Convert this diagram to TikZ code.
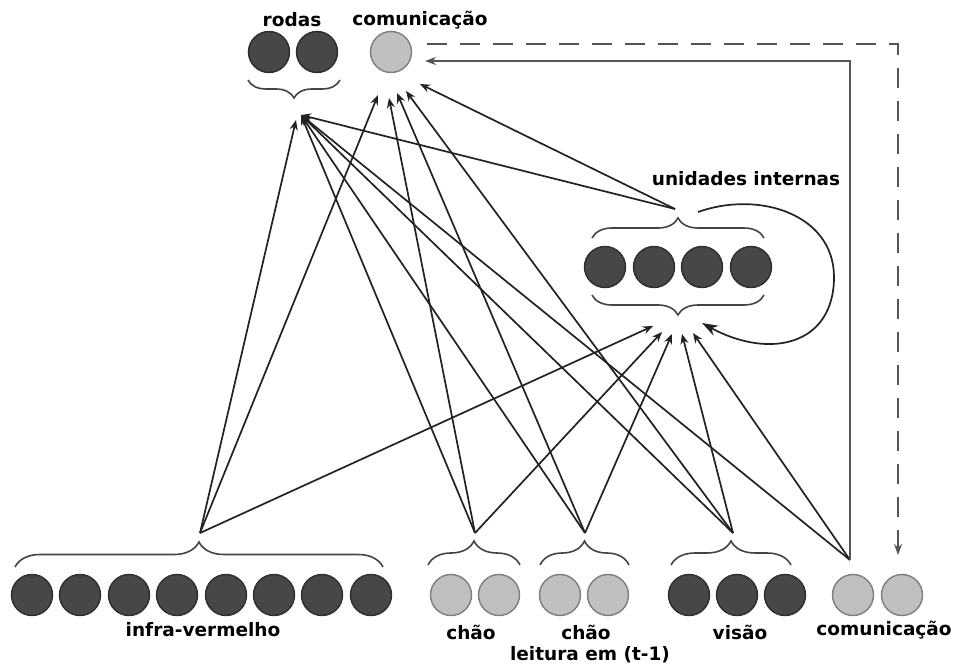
\documentclass[tikz,border=0pt]{standalone}
\usepackage{fontspec}
\setmainfont{DejaVu Sans}
\usetikzlibrary{arrows.meta,decorations.pathreplacing}

\definecolor{unitdark}{HTML}{474747}
\definecolor{unitdarkline}{HTML}{2E2E2E}
\definecolor{unitlight}{HTML}{C0C0C0}
\definecolor{unitlightline}{HTML}{7E7E7E}
\definecolor{wire}{HTML}{222222}
\definecolor{bracecol}{HTML}{444444}
\definecolor{feedback}{HTML}{555555}

\tikzset{
  darkunit/.style={circle, minimum size=41pt, inner sep=0pt, fill=unitdark, draw=unitdarkline, line width=1.4pt},
  lightunit/.style={circle, minimum size=41pt, inner sep=0pt, fill=unitlight, draw=unitlightline, line width=1.4pt},
  lbl/.style={font=\fontsize{18.5}{22}\selectfont\bfseries, inner sep=0pt},
  grp/.style={draw=bracecol, line width=1.6pt, decorate, decoration={brace, amplitude=#1}},
  link/.style={draw=wire, line width=1.7pt, -{Stealth[length=10pt,width=8pt]}},
  fb/.style={draw=feedback, line width=1.8pt},
}

\begin{document}
\begin{tikzpicture}[x=1pt,y=-1pt]
\useasboundingbox (0,0) rectangle (956,667);
\fill[white] (0,0) rectangle (956,667);

% ---------- output layer ----------
\node[darkunit] (r1) at (269,52) {};
\node[darkunit] (r2) at (317,52) {};
\node[lightunit] (cout) at (391,52) {};
\node[lbl] (lrodas) at (292,20) {rodas};
\node[lbl] (lcout) at (420,20) {comunicação};
\draw[grp=18pt] (340,80) -- (248,80);
\coordinate (rodasIn) at (301,115);
\coordinate (rodasInL) at (296,120);

% ---------- hidden layer ----------
\node[darkunit] (h1) at (605,267) {};
\node[darkunit] (h2) at (654,267) {};
\node[darkunit] (h3) at (702,267) {};
\node[darkunit] (h4) at (751,267) {};
\node[lbl] (lhid) at (746,179) {unidades internas};
\draw[grp=20pt] (592,238) -- (764,238);
\draw[grp=20pt] (764,295) -- (592,295);
\coordinate (hidOut) at (675,209);

% ---------- input layer ----------
\foreach \i/\x in {1/32,2/80,3/129,4/177,5/226,6/274,7/322,8/371}
  \node[darkunit] (ir\i) at (\x,595) {};
\node[lightunit] (ch1) at (451,595) {};
\node[lightunit] (ch2) at (499,595) {};
\node[lightunit] (cp1) at (560,595) {};
\node[lightunit] (cp2) at (608,595) {};
\node[darkunit] (vi1) at (689,595) {};
\node[darkunit] (vi2) at (737,595) {};
\node[darkunit] (vi3) at (785,595) {};
\node[lightunit] (cin1) at (853,595) {};
\node[lightunit] (cin2) at (902,595) {};

\node[lbl] (lir) at (203,630) {infra-vermelho};
\node[lbl] (lch) at (471,632) {chão};
\node[lbl] (lcp) at (586,632) {chão};
\node[lbl] (lcpt) at (590,655) {leitura em (t-1)};
\node[lbl] (lvi) at (740,632) {visão};
\node[lbl] (lcin) at (884,630) {comunicação};

\draw[grp=25pt] (15,567) -- (383,567);
\draw[grp=24pt] (428,565) -- (520,565);
\draw[grp=24pt] (540,565) -- (629,565);
\draw[grp=24pt] (671,565) -- (791,565);

\coordinate (irOut) at (200,533);
\coordinate (chOut) at (475,533);
\coordinate (cpOut) at (585,533);
\coordinate (viOut) at (733,533);
\coordinate (cinOut) at (850,560);

% ---------- targets on the comunicação output ----------
\coordinate (coA) at (378,95);
\coordinate (coB) at (389,98);
\coordinate (coC) at (397,93);
\coordinate (coD) at (406,91);
\coordinate (coE) at (420,84);
\coordinate (coTop) at (425,61);

% ---------- targets on the hidden layer ----------
\coordinate (hiA) at (653,326);
\coordinate (hiB) at (662,332);
\coordinate (hiC) at (672,334);
\coordinate (hiD) at (682,334);
\coordinate (hiE) at (693,333);
\coordinate (hiLoop) at (702,323);
\coordinate (loopStart) at (698,212);

% ---------- connections into rodas ----------
\draw[link] (irOut) -- (rodasInL);
\draw[link] (chOut) -- (rodasIn);
\draw[link] (cpOut) -- (rodasIn);
\draw[link] (viOut) -- (rodasIn);
\draw[link] (cinOut) -- (rodasIn);
\draw[link] (hidOut) -- (rodasIn);

% ---------- connections into comunicação ----------
\draw[link] (irOut) -- (coA);
\draw[link] (chOut) -- (coB);
\draw[link] (cpOut) -- (coC);
\draw[link] (viOut) -- (coD);
\draw[link] (hidOut) -- (coE);

% ---------- connections into the hidden units ----------
\draw[link] (irOut) -- (hiA);
\draw[link] (chOut) -- (hiB);
\draw[link] (cpOut) -- (hiC);
\draw[link] (viOut) -- (hiD);
\draw[link] (cinOut) -- (hiE);

% recurrent loop of the hidden units
\draw[draw=wire, line width=1.7pt, -{Stealth[length=16pt,width=11pt]}]
  (loopStart) .. controls (760,190) and (834,215) .. (834,277)
              .. controls (834,345) and (770,360) .. (hiLoop);

% ---------- communication feedback ----------
\coordinate (fbCorner) at (850,61);
\draw[fb, -{Stealth[length=11pt,width=8pt]}] (cinOut) -- (fbCorner) -- (coTop);

\coordinate (dashStart) at (427,44);
\coordinate (dashCorner) at (898,44);
\coordinate (dashEnd) at (898,555);
\draw[fb, dash pattern=on 20pt off 13pt, -{Stealth[length=11pt,width=8pt]}]
  (dashStart) -- (dashCorner) -- (dashEnd);

\end{tikzpicture}
\end{document}
